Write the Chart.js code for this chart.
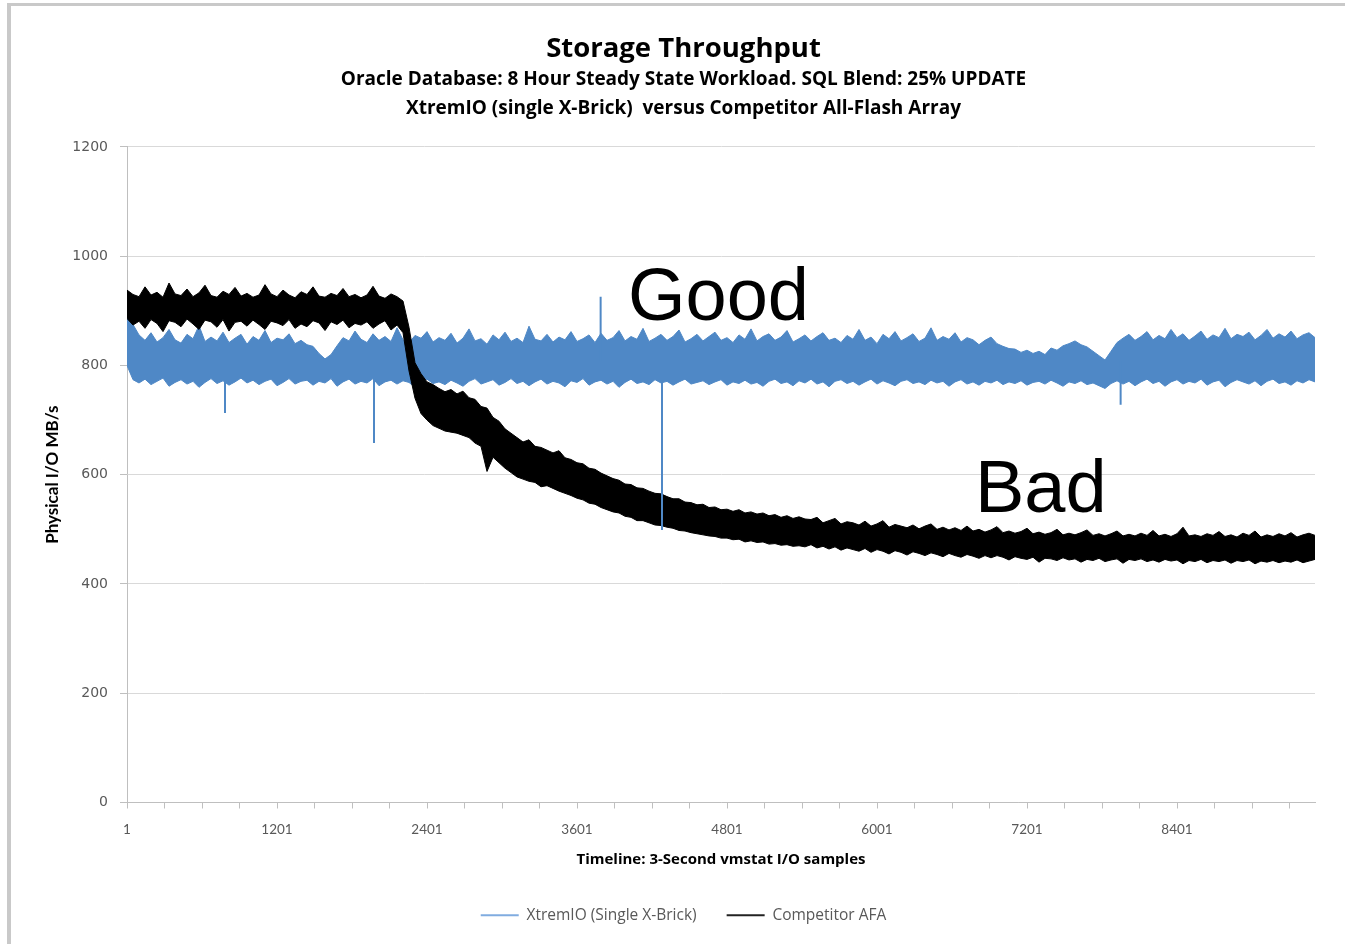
<!DOCTYPE html>
<html>
<head>
<meta charset="utf-8">
<title>Storage Throughput</title>
<script src="https://cdn.jsdelivr.net/npm/chart.js@4.4.1/dist/chart.umd.min.js"></script>
<style>
    html, body { margin: 0; padding: 0; background: #fff; }
    #wrap { width: 1345px; height: 944px; }
</style>
</head>
<body>
<div id="wrap"><canvas id="myChart" width="1345" height="944"></canvas></div>
<script>
// x axis: 3-second vmstat samples, one envelope reading every 48 samples (1 .. 9505)
const sampleStep = 48;
const xTickLabels = [1, 1201, 2401, 3601, 4801, 6001, 7201, 8401];
const xTickMarks = [1, 301, 601, 901, 1201, 1501, 1801, 2101, 2401, 2701, 3001, 3301, 3601, 3901, 4201, 4501, 4801, 5101, 5401, 5701, 6001, 6301, 6601, 6901, 7201, 7501, 7801, 8101, 8401, 8701, 9001, 9301];
const yTicks = [0, 200, 400, 600, 800, 1000, 1200];

// XtremIO: top and bottom edge of the noise band (MB/s)
const xtremHigh = [
    905, 875, 856, 846, 860, 843, 851, 866, 847, 841,
    857, 849, 873, 844, 852, 845, 861, 842, 850, 857,
    839, 853, 846, 864, 842, 850, 847, 858, 840, 846,
    838, 835, 822, 812, 820, 836, 851, 845, 863, 848,
    842, 858, 846, 853, 844, 869, 847, 841, 855, 850,
    862, 843, 851, 846, 859, 841, 850, 867, 845, 849,
    839, 856, 847, 861, 844, 850, 842, 872, 848, 845,
    857, 843, 852, 847, 862, 844, 849, 856, 842, 859,
    846, 851, 864, 845, 853, 848, 868, 844, 850, 857,
    846, 853, 865, 843, 849, 857, 845, 853, 861, 846,
    851, 842, 856, 848, 867, 845, 853, 858, 846, 852,
    864, 843, 849, 856, 845, 853, 860, 846, 850, 842,
    855, 848, 866, 846, 852, 840, 857, 849, 862, 845,
    851, 858, 844, 850, 869, 846, 853, 848, 860, 843,
    851, 847, 838, 846, 852, 840, 835, 831,
    830, 824, 828, 822, 826, 820, 832, 828, 836,
    840, 845, 838, 834, 826, 818, 810, 826, 842,
    850, 857, 846, 853, 862, 847, 855, 849, 866, 851,
    858, 846, 854, 863, 848, 856, 851, 868, 849, 857,
    853, 861, 847, 855, 866, 850, 858, 852, 863, 849,
    856, 860, 851];
const xtremLow = [
    800, 774, 768, 775, 765, 771, 777, 762, 769, 774,
    766, 771, 760, 769, 776, 767, 772, 764, 770, 777,
    768, 773, 765, 771, 775, 763, 769, 776, 766, 771,
    773, 764, 771, 768, 776, 762, 770, 775, 766, 771,
    768, 776, 763, 770, 773, 766, 772, 769, 760, 771,
    775, 767, 770, 765, 773, 768, 762, 771, 776, 766,
    770, 774, 764, 769, 776, 767, 771, 763, 770, 775,
    766, 771, 768, 761, 772, 769, 776, 764, 770, 773,
    766, 771, 760, 769, 775, 767, 770, 765, 774, 768,
    771, 764, 770, 775, 766, 769, 772, 765, 770, 774,
    764, 770, 767, 773, 766, 769, 762, 771, 775, 767,
    770, 763, 772, 768, 775, 766, 770, 761, 771, 774,
    767, 771, 764, 770, 775, 766, 772, 768, 763, 771,
    774, 767, 770, 765, 773, 768, 771, 762, 770, 774,
    766, 770, 764, 771, 768, 773, 765, 770, 767, 772,
    764, 769, 771, 766, 773, 768, 762, 770, 767, 772,
    765, 768, 763, 758, 767, 772, 766, 771, 763, 770,
    775, 767, 771, 762, 770, 774, 766, 771, 768, 775,
    764, 770, 773, 761, 769, 774, 770, 766, 772, 763,
    771, 775, 767, 770, 764, 772, 768, 774, 770];
// single-sample spikes of the XtremIO trace
const spikeSamples = [785, 1977, 3790, 4281, 7950];
const spikeValues = [713, 658, 926, 499, 728];
const spikeBase = 808;

// Competitor AFA: top and bottom edge of the noise band (MB/s)
const competitorHigh = [
    938, 930, 926, 944, 929, 934, 925, 951, 931, 928,
    940, 926, 933, 947, 928, 925, 936, 930, 943, 927,
    932, 925, 929, 948, 931, 926, 938, 929, 924, 935,
    930, 944, 927, 925, 932, 928, 941, 926, 930, 924,
    929, 945, 927, 923, 931, 926,
    918, 870, 805, 785,
    770, 765, 758, 752, 756, 748, 753, 741, 738, 725,
    722, 705, 698, 684, 676, 668, 660, 664, 652, 650,
    645, 640, 644, 631, 628, 622, 620, 612, 610, 603,
    598, 593, 590, 583, 582, 576, 575, 570, 566, 565,
    560, 556, 556, 550, 549, 545, 546, 540, 541, 536,
    537, 533, 536, 530, 532, 528, 530, 525, 527, 522, 525, 520, 523, 519,
    518, 522, 512, 516, 520, 510, 514, 512, 508, 515,
    506, 510, 516, 504, 509, 506, 503, 508, 501, 506,
    510, 500, 504, 499, 503, 498, 506, 497, 500, 495,
    499, 505, 494, 497, 493, 496, 502, 492, 495, 491,
    494, 500, 490, 493, 490, 494, 499, 489, 492, 488,
    492, 497, 488, 491, 488, 493, 489, 498, 488, 491,
    487, 492, 504, 488, 490, 487, 492, 489, 496, 487,
    490, 486, 493, 489, 497, 486, 490, 487, 492, 488,
    494, 486, 490, 493, 489];
const competitorLow = [
    886, 874, 881, 868, 884, 877, 862, 882, 879, 871,
    885, 876, 866, 883, 880, 870, 884, 863, 879, 881,
    872, 883, 875, 866, 881, 878, 873, 884, 868, 876,
    871, 882, 878, 864, 880, 875, 883, 869, 877, 874,
    880, 868, 876, 882, 865, 874,
    860, 790, 740, 712,
    700, 690, 685, 680, 678, 676, 672, 668, 658, 652,
    606, 632, 622, 612, 604, 596, 592, 588, 586, 578,
    580, 575, 570, 566, 562, 557, 554, 548, 546, 540,
    536, 532, 530, 524, 522, 516, 516, 512, 508, 507,
    504, 502, 498, 497, 494, 492, 490, 488, 487, 484,
    484, 481, 482, 477, 479, 476, 477, 473, 474, 471, 472, 469, 470, 468,
    472, 466, 469, 464, 468, 462, 466, 463, 460, 465,
    458, 463, 460, 455, 461, 458, 453, 459, 456, 452,
    457, 454, 450, 456, 452, 449, 454, 451, 447, 452,
    448, 452, 449, 444, 450, 447, 445, 449, 440, 447,
    446, 443, 448, 444, 446, 440, 445, 443, 447, 441,
    444, 446, 438, 445, 443, 446, 441, 444, 440, 445,
    442, 444, 437, 443, 441, 445, 439, 443, 441, 444,
    438, 443, 441, 444, 437, 442, 440, 443, 439, 442,
    440, 444, 439, 442, 445];

const notes = [
    { text: 'Good', sample: 4009, value: 883 },
    { text: 'Bad', sample: 6785, value: 532 }
];

const blue = '#4f88c6';
const toPoints = vals => vals.map((v, i) => ({ x: 1 + i * sampleStep, y: v }));
const spikePoints = [];
spikeSamples.forEach((s, i) => {
    spikePoints.push({ x: s, y: spikeBase }, { x: s, y: spikeValues[i] }, { x: s, y: null });
});

const framePlugin = {
    id: 'frame',
    beforeDraw(chart) {
        const ctx = chart.ctx;
        ctx.save();
        ctx.fillStyle = '#c9c9c9';
        ctx.fillRect(7, 3, 4, chart.height);
        ctx.fillRect(7, 3, chart.width, 3);
        ctx.restore();
    }
};

const notesPlugin = {
    id: 'notes',
    afterDatasetsDraw(chart) {
        const ctx = chart.ctx;
        ctx.save();
        ctx.font = '74px "Liberation Sans", Arial, sans-serif';
        ctx.fillStyle = '#000';
        ctx.textAlign = 'left';
        ctx.textBaseline = 'alphabetic';
        notes.forEach(n => {
            ctx.fillText(n.text, chart.scales.x.getPixelForValue(n.sample), chart.scales.y.getPixelForValue(n.value));
        });
        ctx.restore();
    }
};

Chart.defaults.font.family = 'Lato, "Open Sans", sans-serif';
const wide = '"Open Sans", Lato, sans-serif';

new Chart(document.getElementById('myChart'), {
    type: 'line',
    data: {
        datasets: [
            {
                label: 'XtremIO (Single X-Brick)',
                data: toPoints(xtremHigh),
                borderColor: blue,
                backgroundColor: blue,
                borderWidth: 1,
                fill: '+1',
                order: 3
            },
            {
                label: 'xtremLow',
                data: toPoints(xtremLow),
                borderColor: blue,
                borderWidth: 1,
                fill: false,
                order: 3
            },
            {
                label: 'Competitor AFA',
                data: toPoints(competitorHigh),
                borderColor: '#000',
                backgroundColor: '#000',
                borderWidth: 1,
                fill: '+1',
                order: 2
            },
            {
                label: 'competitorLow',
                data: toPoints(competitorLow),
                borderColor: '#000',
                borderWidth: 1,
                fill: false,
                order: 2
            },
            {
                label: 'spikes',
                data: spikePoints,
                borderColor: blue,
                borderWidth: 2,
                spanGaps: false,
                fill: false,
                order: 1
            }
        ]
    },
    options: {
        responsive: false,
        animation: false,
        elements: { point: { radius: 0 }, line: { tension: 0 } },
        layout: { padding: { left: 52, right: 30, top: 0, bottom: 11 } },
        plugins: {
            tooltip: { enabled: false },
            title: {
                display: true,
                text: 'Storage Throughput',
                color: '#000',
                font: { family: wide, size: 27.5, weight: 'bold' },
                padding: { top: 32.5, bottom: 0 }
            },
            subtitle: {
                display: true,
                text: ['Oracle Database: 8 Hour Steady State Workload. SQL Blend: 25% UPDATE',
                       'XtremIO (single X-Brick)  versus Competitor All-Flash Array'],
                color: '#000',
                font: { family: wide, size: 19, weight: 'bold', lineHeight: 1.526 },
                padding: { top: 0, bottom: 23.5 }
            },
            legend: {
                position: 'bottom',
                labels: {
                    color: '#595959',
                    font: { family: wide, size: 15.5 },
                    usePointStyle: true,
                    pointStyle: 'line',
                    pointStyleWidth: 38,
                    padding: 30,
                    generateLabels(chart) {
                        return Chart.defaults.plugins.legend.labels.generateLabels(chart)
                            .filter(item => item.text === 'XtremIO (Single X-Brick)' || item.text === 'Competitor AFA')
                            .sort((a, b) => a.datasetIndex - b.datasetIndex)
                            .map(item => Object.assign(item, {
                                strokeStyle: item.datasetIndex === 0 ? '#80ace0' : '#222',
                                lineWidth: 2
                            }));
                    }
                }
            }
        },
        scales: {
            x: {
                type: 'linear',
                min: 1,
                max: 9505,
                afterBuildTicks: scale => { scale.ticks = xTickMarks.map(v => ({ value: v })); },
                afterFit: scale => { scale.height = 75; },
                ticks: {
                    autoSkip: false,
                    maxRotation: 0,
                    color: '#595959',
                    font: { size: 13.5 },
                    padding: 13,
                    callback: v => xTickLabels.includes(v) ? String(v) : ''
                },
                grid: { drawOnChartArea: false, drawTicks: true, tickLength: 6, color: '#bfbfbf' },
                border: { color: '#bfbfbf' },
                title: {
                    display: true,
                    text: 'Timeline: 3-Second vmstat I/O samples',
                    color: '#000',
                    font: { family: wide, size: 15, weight: 'bold' },
                    padding: { top: 0, bottom: 9 }
                }
            },
            y: {
                min: 0,
                max: 1200,
                afterBuildTicks: scale => { scale.ticks = yTicks.map(v => ({ value: v })); },
                afterFit: scale => { scale.width = 75; },
                ticks: {
                    color: '#595959',
                    font: { family: '"DejaVu Sans", sans-serif', size: 14 },
                    padding: 12,
                    callback: v => String(v)
                },
                grid: { color: '#d9d9d9', tickLength: 7, tickColor: '#bfbfbf' },
                border: { color: '#bfbfbf' },
                title: {
                    display: true,
                    text: 'Physical I/O MB/s',
                    color: '#000',
                    font: { size: 17, weight: 'bold' },
                    padding: { top: -10, bottom: 0 }
                }
            }
        }
    },
    plugins: [framePlugin, notesPlugin]
});
</script>
</body>
</html>
